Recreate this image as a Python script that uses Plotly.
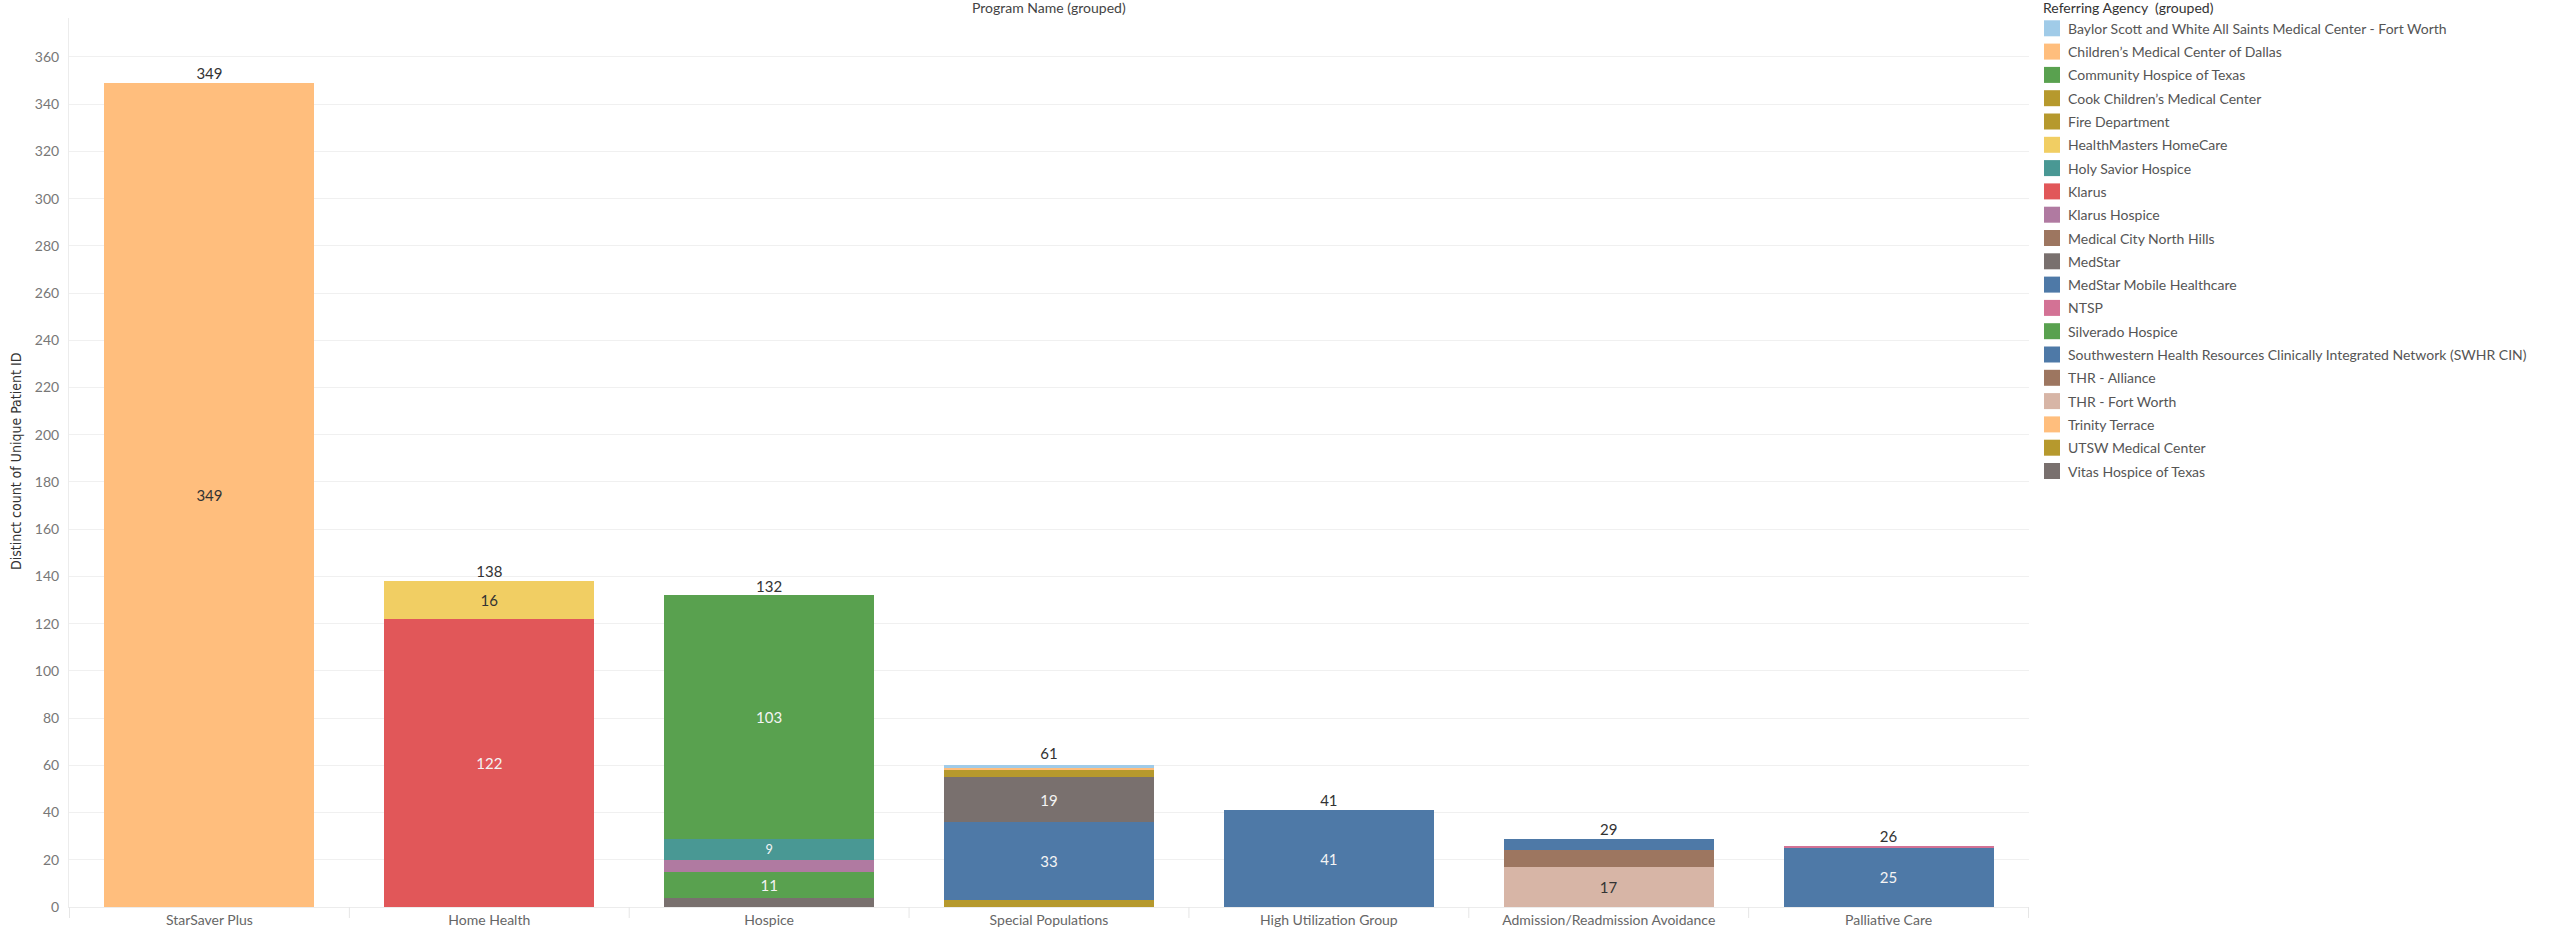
import plotly.graph_objects as go

# ---------------- data ----------------
programs = ["StarSaver Plus", "Home Health", "Hospice", "Special Populations",
            "High Utilization Group", "Admission/Readmission Avoidance", "Palliative Care"]
totals = [349, 138, 132, 61, 41, 29, 26]

agencies = [
    "Baylor Scott and White All Saints Medical Center - Fort Worth",
    "Children\u2019s Medical Center of Dallas",
    "Community Hospice of Texas",
    "Cook Children\u2019s Medical Center",
    "Fire Department",
    "HealthMasters HomeCare",
    "Holy Savior Hospice",
    "Klarus",
    "Klarus Hospice",
    "Medical City North Hills",
    "MedStar",
    "MedStar Mobile Healthcare",
    "NTSP",
    "Silverado Hospice",
    "Southwestern Health Resources Clinically Integrated Network (SWHR CIN)",
    "THR - Alliance",
    "THR - Fort Worth",
    "Trinity Terrace",
    "UTSW Medical Center",
    "Vitas Hospice of Texas",
]
agency_colors = ["#a0cbe8", "#ffbe7d", "#59a14f", "#b6992d", "#b6992d", "#f1ce63",
                 "#499894", "#e15759", "#b07aa1", "#9d7660", "#79706e", "#4e79a7",
                 "#d37295", "#59a14f", "#4e79a7", "#9d7660", "#d7b5a6", "#ffbe7d",
                 "#b6992d", "#79706e"]

# values per agency, in the order of `programs`
baylor          = [0,   0,   0,   1,  0,  0,  0]
childrens       = [349, 0,   0,   1,  0,  0,  0]
community       = [0,   0,   103, 0,  0,  0,  0]
cook            = [0,   0,   0,   0,  0,  0,  0]
fire_dept       = [0,   0,   0,   3,  0,  0,  0]
healthmasters   = [0,   16,  0,   0,  0,  0,  0]
holy_savior     = [0,   0,   9,   0,  0,  0,  0]
klarus          = [0,   122, 0,   0,  0,  0,  0]
klarus_hospice  = [0,   0,   5,   0,  0,  0,  0]
medical_city    = [0,   0,   0,   0,  0,  0,  0]
medstar         = [0,   0,   0,   19, 0,  0,  0]
medstar_mobile  = [0,   0,   0,   33, 41, 0,  0]
ntsp            = [0,   0,   0,   0,  0,  0,  1]
silverado       = [0,   0,   11,  0,  0,  0,  0]
swhr            = [0,   0,   0,   0,  0,  5,  25]
thr_alliance    = [0,   0,   0,   0,  0,  7,  0]
thr_fort_worth  = [0,   0,   0,   0,  0,  17, 0]
trinity         = [0,   0,   0,   0,  0,  0,  0]
utsw            = [0,   0,   0,   3,  0,  0,  0]
vitas           = [0,   0,   4,   0,  0,  0,  0]

agency_values = [baylor, childrens, community, cook, fire_dept, healthmasters,
                 holy_savior, klarus, klarus_hospice, medical_city, medstar,
                 medstar_mobile, ntsp, silverado, swhr, thr_alliance,
                 thr_fort_worth, trinity, utsw, vitas]

light_bg = {"#a0cbe8", "#ffbe7d", "#f1ce63", "#d7b5a6"}

# ---------------- layout geometry (pixels) ----------------
W, H = 2554, 933
PL, PR, PT, PB = 69, 2029, 18, 907   # plot area edges


def px_x(px):
    return (px - PL) / (PR - PL)


def px_y(py):
    return (PB - py) / (PB - PT)


FONT = "Lato, 'Open Sans', sans-serif"

fig = go.Figure()

# stack: last legend item at the bottom
for name, color, vals in reversed(list(zip(agencies, agency_colors, agency_values))):
    txt = [str(v) if v >= 9 else "" for v in vals]
    fig.add_trace(go.Bar(
        x=programs, y=vals, name=name,
        marker=dict(color=color, line=dict(width=0)),
        text=txt, textposition="inside", insidetextanchor="middle", textangle=0,
        textfont=dict(family=FONT, size=15,
                      color="#333333" if color in light_bg else "#f4f4f4"),
        hovertemplate="%{x}<br>" + name + ": %{y}<extra></extra>",
        showlegend=False,
    ))

# totals above bars
fig.add_trace(go.Scatter(
    x=programs, y=totals, mode="text", text=[str(t) for t in totals],
    textposition="top center",
    textfont=dict(family=FONT, size=15, color="#333333"),
    showlegend=False, hoverinfo="skip",
))

fig.update_layout(
    width=W, height=H,
    margin=dict(l=PL, r=W - PR, t=PT, b=H - PB, pad=0, autoexpand=False),
    barmode="stack", bargap=0.25,
    plot_bgcolor="white", paper_bgcolor="white",
    font=dict(family=FONT, size=14, color="#555555"),
    showlegend=False,
)
fig.update_yaxes(
    range=[0, 376.5], dtick=20, tick0=0, automargin=False,
    showgrid=True, gridcolor="#f0f0f0", gridwidth=1,
    zeroline=False, showline=True, linecolor="#ececec",
    ticks="", tickfont=dict(family=FONT, size=14, color="#777777"),
    ticklabelstandoff=6,
)
fig.update_xaxes(
    showgrid=False, showline=True, linecolor="#ececec", automargin=False,
    ticks="", tickfont=dict(family=FONT, size=14, color="#666666"),
)

# category divider ticks below the baseline
for i in range(len(programs) + 1):
    fig.add_shape(type="line", xref="x", yref="paper",
                  x0=i - 0.5, x1=i - 0.5, y0=px_y(907), y1=px_y(918),
                  line=dict(color="#e6e6e6", width=1))

# header / axis title
fig.add_annotation(text="Program Name (grouped)", xref="paper", yref="paper",
                   x=0.5, y=px_y(8), xanchor="center", yanchor="middle",
                   showarrow=False, font=dict(family=FONT, size=14, color="#444444"))
fig.add_annotation(text="Distinct count of Unique Patient ID", xref="paper", yref="paper",
                   x=px_x(16), y=px_y(462), xanchor="center", yanchor="middle",
                   textangle=-90, showarrow=False,
                   font=dict(family="'Liberation Sans Narrow', 'DejaVu Sans Condensed', sans-serif",
                             size=14, color="#333333"))

# custom legend
fig.add_annotation(text="Referring Agency\u00a0 (grouped)", xref="paper", yref="paper",
                   x=px_x(2041), y=px_y(8), xanchor="left", yanchor="middle",
                   showarrow=False, font=dict(family=FONT, size=14, color="#333333"))
for i, (name, color) in enumerate(zip(agencies, agency_colors)):
    cy = 28.3 + 23.3 * i
    fig.add_shape(type="rect", xref="paper", yref="paper",
                  x0=px_x(2044), x1=px_x(2060), y0=px_y(cy - 8), y1=px_y(cy + 8),
                  fillcolor=color, line=dict(width=0))
    fig.add_annotation(text=name, xref="paper", yref="paper",
                       x=px_x(2066), y=px_y(cy), xanchor="left", yanchor="middle",
                       showarrow=False, font=dict(family=FONT, size=14, color="#555555"))

fig.write_html("out.html", config={"displayModeBar": False},
               post_script="document.body.style.margin='0px';document.body.style.overflow='hidden';")
